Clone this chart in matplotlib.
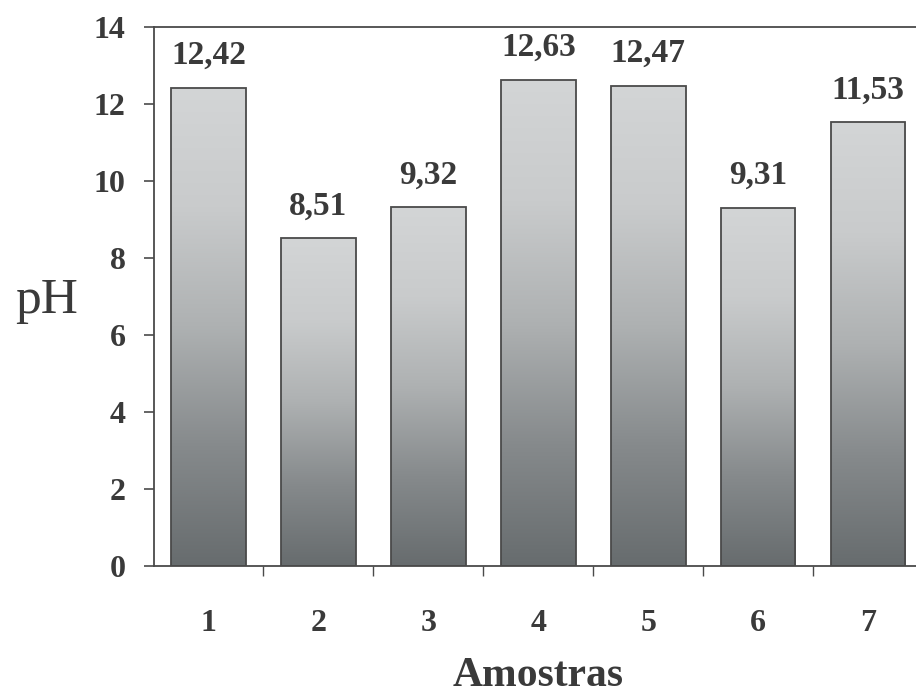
import matplotlib
matplotlib.use("Agg")
import matplotlib.pyplot as plt
import numpy as np
from matplotlib.colors import LinearSegmentedColormap

categories = ["1", "2", "3", "4", "5", "6", "7"]
values = [12.42, 8.51, 9.32, 12.63, 12.47, 9.31, 11.53]
value_labels = ["12,42", "8,51", "9,32", "12,63", "12,47", "9,31", "11,53"]
yticks = [0, 2, 4, 6, 8, 10, 12, 14]

plt.rcParams['font.family'] = ['Liberation Serif', 'DejaVu Serif']
txt = '#3a3a3a'
edge = '#4a4a4a'

fig = plt.figure(figsize=(9.16, 6.95), dpi=100)
fig.patch.set_facecolor('white')
ax = fig.add_axes([153.5/916, 1-566/695, (923-153.5)/916, (566-27)/695])

x = np.arange(1, len(categories)+1)
bars = ax.bar(x, values, width=0.68, facecolor='none', edgecolor=edge, linewidth=1.3, zorder=3)

cmap = LinearSegmentedColormap.from_list('g', ['#676c6e', '#868a8c', '#aeb1b2', '#c9cbcc', '#d3d5d6'])
grad = np.linspace(0, 1, 256).reshape(-1, 1)
for b in bars:
    x0, w, h = b.get_x(), b.get_width(), b.get_height()
    im = ax.imshow(grad, extent=[x0, x0+w, 0, h], origin='lower', cmap=cmap,
                   aspect='auto', zorder=2, interpolation='bicubic')
    im.set_clip_path(b)

for xi, v, lab in zip(x, values, value_labels):
    ax.annotate(lab, (xi, v), xytext=(0, 12), textcoords='offset points',
                ha='center', va='bottom', fontsize=24, fontweight='bold', color=txt)

ax.set_xlim(0.5, 7.5)
ax.set_ylim(0, 14)
ax.set_yticks(yticks)
ax.set_yticklabels([str(t) for t in yticks], fontsize=23, fontweight='bold', color=txt)
ax.set_xticks(x)
ax.set_xticklabels(categories, fontsize=23, fontweight='bold', color=txt)
ax.tick_params(axis='x', length=0, pad=31)
ax.set_xticks(np.arange(1.5, 7.5, 1), minor=True)
ax.tick_params(axis='x', which='minor', length=7, width=1, color=edge, direction='out')
ax.tick_params(axis='y', length=7, width=1.2, color=edge, pad=13)
for s in ['left', 'top', 'bottom', 'right']:
    ax.spines[s].set_color(edge)
    ax.spines[s].set_linewidth(1.3)

fig.text(538/916, 1-686/695, "Amostras", ha='center', va='baseline', fontsize=30,
         fontweight='bold', color=txt)
fig.text(47/916, 1-313/695, "pH", ha='center', va='baseline', fontsize=37, color=txt)

fig.savefig('out.png', dpi=100)
